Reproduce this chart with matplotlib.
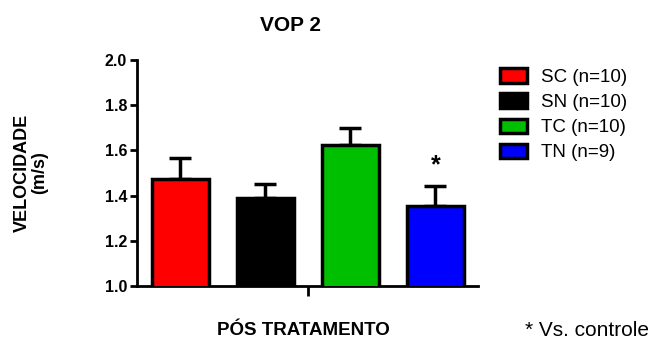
import matplotlib.pyplot as plt

plt.rcParams['font.family'] = ['Liberation Sans', 'DejaVu Sans']

grupos = ["SC (n=10)", "SN (n=10)", "TC (n=10)", "TN (n=9)"]
medias = [1.475, 1.390, 1.622, 1.355]
erros = [0.093, 0.063, 0.078, 0.087]
cores = ["#ff0000", "#000000", "#00bf00", "#0000ff"]

fig = plt.figure(figsize=(6.52, 3.46), dpi=100)
ax = fig.add_axes([0.210, 0.1734, 0.523, 0.6532])

x = range(len(grupos))
bars = ax.bar(x, medias, width=0.67, color=cores, edgecolor="black",
              linewidth=2.5, zorder=3, label=grupos)
ax.errorbar(x, medias, yerr=[[0] * len(erros), erros], fmt="none",
            ecolor="black", elinewidth=2.5, capsize=8, capthick=2.5, zorder=2)

# asterisco sobre o grupo TN
ax.text(3, medias[3] + erros[3] + 0.04, "*", ha="center", va="bottom",
        fontsize=18, fontweight="bold")

ax.set_ylim(1.0, 2.0)
ax.set_xlim(-0.51, 3.5)
ax.set_yticks([1.0, 1.2, 1.4, 1.6, 1.8, 2.0])
ax.set_yticklabels(["1.0", "1.2", "1.4", "1.6", "1.8", "2.0"], fontweight="bold", fontsize=11.5)
ax.set_xticks([1.5])
ax.set_xticklabels([""])
ax.tick_params(axis="y", length=5, width=2, pad=2)
ax.tick_params(axis="x", length=7, width=2, direction="out")

for s in ["top", "right"]:
    ax.spines[s].set_visible(False)
for s in ["left", "bottom"]:
    ax.spines[s].set_linewidth(2)

fig.text(0.446, 0.925, "VOP 2", fontweight="bold", fontsize=15, ha="center", va="center")
fig.text(0.4655, 0.046, "PÓS TRATAMENTO", fontweight="bold", fontsize=13.5,
         ha="center", va="center")
fig.text(0.048, 0.501, "VELOCIDADE\n(m/s)", rotation=90, ha="center", va="center",
         fontweight="bold", fontsize=13, linespacing=1.0)

leg = fig.legend(handles=bars, labels=grupos, loc="upper left",
                 bbox_to_anchor=(0.767, 0.803), frameon=False, fontsize=13.5,
                 handlelength=1.45, handleheight=0.8, labelspacing=0.4,
                 handletextpad=0.75, borderaxespad=0, borderpad=0)

fig.text(0.805, 0.046, "* Vs. controle", fontsize=15, ha="left", va="center")

fig.savefig("out.png", dpi=100)
